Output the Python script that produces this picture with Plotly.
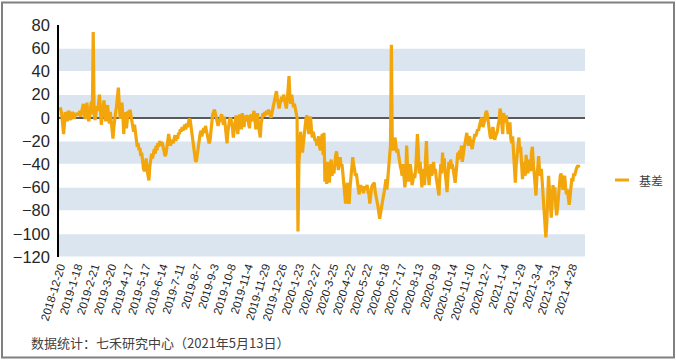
import pandas as pd
import plotly.graph_objects as go

# ---- data -------------------------------------------------------------
start_date = "2018-12-20"
end_date = "2021-05-13"
holidays = [
    "2018-12-31", "2019-01-01",
    "2019-02-04", "2019-02-05", "2019-02-06", "2019-02-07", "2019-02-08",
    "2019-04-05", "2019-05-01", "2019-05-02", "2019-05-03", "2019-06-07",
    "2019-09-13", "2019-10-01", "2019-10-02", "2019-10-03", "2019-10-04", "2019-10-07",
    "2020-01-01", "2020-01-24", "2020-01-27", "2020-01-28", "2020-01-29", "2020-01-30",
    "2020-01-31", "2020-04-06", "2020-05-01", "2020-05-04", "2020-05-05",
    "2020-06-25", "2020-06-26", "2020-10-01", "2020-10-02", "2020-10-05", "2020-10-06",
    "2020-10-07", "2020-10-08", "2021-01-01", "2021-02-11", "2021-02-12", "2021-02-15",
    "2021-02-16", "2021-02-17", "2021-04-05", "2021-05-03", "2021-05-04", "2021-05-05",
]

basis = [
    9, 7, 3, -12, -14, -5, 5, 2, -3, 4, 6, 1, -2, 3, 5, 2, -1, 4, 3,
    2, 4, 3, 6, 1, 5, 8, 12, 4, -1, 6, 13, 3, -3, 2, 10, 14, 3, 74,
    5, -2, 3, 10, 6, 18, 20, 8, -6, 2, 12, 15, 4, -3, 8, 11, 2, -5, 5,
    -5, -12, -18, -8, 2, 5, 10, 18, 26, 12, -1, 8, 13, 2, -14, 0, 5, -9, 2,
    6, 3, 7, 2, -2, -9, -12, -6, -14, -20, -25, -22, -28, -26, -33, -30, -38, -44, -46,
    -40, -35, -45, -50, -54, -42, -36, -31, -35, -29, -27, -31, -24, -28, -22, -25, -20, -24, -21,
    -22, -26, -30, -33, -31, -27, -20, -14, -18, -24, -21, -19, -22, -17, -15, -20, -16, -18, -13,
    -14, -10, -12, -8, -11, -9, -6, -10, -5, -8, -3, -1, -2, -9, -12, -18, -26, -35, -38,
    -37, -30, -22, -18, -14, -11, -16, -12, -9, -13, -7, -11, -15, -17, -22, -20, -12, -4, 3,
    5, 7, 4, 0, -3, -7, -4, -1, 2, 3, -2, -6, 1, -8, -16, -22, -12, -4, -1,
    0, -4, -8, -17, -9, -3, 2, -5, -14, -4, 3, -2, -10, 4, -1, -8, 2, -3, 1,
    2, -5, -9, 0, 3, -3, 5, 6, -1, -10, -2, 4, -6, -12, -17, -5, 2, 4, 1,
    5, 2, 6, 3, 7, 5, 1, 0, 4, 8, 12, 15, 19, 23, 17, 13, 8, 12, 15,
    18, 14, 20, 16, 10, 8, 14, 22, 36, 18, 12, 20, 16, 9, 12, 6, 4, 0, -98,
    -40, -28, -12, -25, -30, -22, -14, -8, 0, 2, -8, -14, -3, 1, -10, -17, -12, -15, -20,
    -18, -24, -21, -16, -25, -28, -20, -14, -32, -13, -55, -42, -57, -38, -45, -56, -40, -36, -50,
    -42, -48, -38, -32, -29, -36, -45, -38, -34, -42, -40, -48, -55, -64, -74, -62, -56, -72, -74,
    -60, -52, -45, -34, -40, -46, -50, -48, -54, -58, -66, -62, -58, -63, -60, -65, -59, -62, -60,
    -58, -64, -66, -74, -62, -60, -58, -57, -56, -64, -70, -72, -76, -80, -87, -82, -76, -72, -68,
    -64, -60, -53, -62, -50, -38, -30, -24, 63, -20, -28, -26, -17, -22, -30, -27, -34, -38, -42,
    -45, -50, -40, -48, -60, -52, -24, -42, -55, -48, -40, -46, -58, -54, -48, -52, -45, -30, -14,
    -28, -48, -38, -55, -60, -44, -52, -58, -36, -20, -42, -50, -58, -46, -40, -50, -45, -38, -48,
    -44, -52, -56, -62, -67, -50, -40, -48, -30, -45, -35, -48, -58, -64, -50, -38, -44, -36, -42,
    -40, -45, -52, -56, -48, -38, -30, -36, -28, -34, -24, -38, -30, -26, -22, -18, -13, -20, -24,
    -16, -20, -24, -27, -22, -17, -14, -16, -12, -10, -11, -6, -4, -1, 0, -8, -5, -2, 4,
    6, 2, -6, -12, -16, -18, -14, -8, -12, -19, -16, -14, -12, -6, -2, 8, 4, -6, -14,
    4, 0, -4, 2, -6, -14, -10, -4, -18, -22, -16, -30, -45, -56, -40, -32, -20, -17, -30,
    -25, -40, -53, -38, -46, -50, -32, -44, -48, -36, -42, -46, -30, -25, -38, -48, -60, -67, -52,
    -40, -33, -46, -50, -44, -56, -66, -74, -88, -103, -92, -70, -50, -62, -78, -86, -72, -58, -70,
    -60, -75, -84, -78, -68, -58, -50, -48, -55, -62, -52, -50, -60, -66, -62, -70, -75, -68, -56,
    -52, -55, -48, -50, -46, -44, -42, -41, -43,
]

tick_labels = [
    "2018-12-20", "2019-1-18", "2019-2-21", "2019-3-20", "2019-4-17", "2019-5-17",
    "2019-6-14", "2019-7-11", "2019-8-7", "2019-9-3", "2019-10-8", "2019-11-4",
    "2019-11-29", "2019-12-26", "2020-1-23", "2020-2-27", "2020-3-25", "2020-4-22",
    "2020-5-22", "2020-6-18", "2020-7-17", "2020-8-13", "2020-9-9", "2020-10-14",
    "2020-11-10", "2020-12-7", "2021-1-4", "2021-1-29", "2021-3-4", "2021-3-31",
    "2021-4-28",
]
y_ticks = [80, 60, 40, 20, 0, -20, -40, -60, -80, -100, -120]
series_name = "基差"
source_text = "数据统计：七禾研究中心（2021年5月13日）"

# ---- build categories --------------------------------------------------
days = pd.bdate_range(start_date, end_date)
days = [d for d in days if d.strftime("%Y-%m-%d") not in set(holidays)]
dates = [f"{d.year}-{d.month}-{d.day}" for d in days]
n = min(len(dates), len(basis))
dates = dates[:n]
vals = basis[:n]

W, H = 677, 361
L, R, T, B = 59, 92, 25, 104
pw, ph = W - L - R, H - T - B

def px(x):
    return (x - L) / pw

def py(y):
    return (H - B - y) / ph

FONT = "Liberation Sans, Arial, Noto Sans CJK SC, sans-serif"
CJK = "Noto Sans CJK SC, Liberation Sans, sans-serif"
LINE = "#F2A60C"

fig = go.Figure()
fig.add_trace(go.Scatter(
    x=dates, y=vals, mode="lines", name=series_name,
    line=dict(color=LINE, width=3.2), showlegend=False,
))

shapes = []
# alternating background bands
for lo in range(-120, 80, 40):
    shapes.append(dict(type="rect", xref="paper", yref="y", x0=0, x1=1,
                       y0=lo + 0.4, y1=lo + 20 - 0.4, fillcolor="#DAE5F0",
                       line=dict(width=0), layer="below"))
# outer border
shapes.append(dict(type="rect", xref="paper", yref="paper",
                   x0=px(2), x1=px(674), y0=py(357.5), y1=py(2.5),
                   line=dict(color="#808080", width=2), fillcolor="rgba(0,0,0,0)"))
# legend sample
shapes.append(dict(type="line", xref="paper", yref="paper",
                   x0=px(615), x1=px(629), y0=py(180), y1=py(180),
                   line=dict(color=LINE, width=3)))

annotations = [
    dict(text=series_name, xref="paper", yref="paper", x=px(637), y=py(180),
         xanchor="left", yanchor="middle", showarrow=False,
         font=dict(family=CJK, size=12, color="#404040")),
    dict(text=source_text, xref="paper", yref="paper", x=px(29), y=py(342),
         xanchor="left", yanchor="middle", showarrow=False,
         font=dict(family=CJK, size=13, color="#404040")),
]

fig.update_layout(
    width=W, height=H,
    margin=dict(l=L, r=R, t=T, b=B, pad=0),
    paper_bgcolor="white", plot_bgcolor="white",
    shapes=shapes, annotations=annotations,
    xaxis=dict(
        type="category", categoryorder="array", categoryarray=dates,
        range=[-1.1, 584.6], tickmode="array", tickvals=tick_labels,
        ticktext=tick_labels, tickangle=-73, showgrid=False, zeroline=False,
        showline=False, ticks="",
        tickfont=dict(family=FONT, size=11.5, color="#1f1f1f"),
    ),
    yaxis=dict(
        range=[-120, 80], tickmode="array", tickvals=y_ticks,
        showgrid=False, zeroline=True, zerolinecolor="#595959", zerolinewidth=1.5,
        showline=True, linecolor="#000000", linewidth=1.5, ticks="",
        ticklabelstandoff=4,
        tickfont=dict(family=FONT, size=16.5, color="#262626"),
    ),
)

fig.write_html(
    "out.html",
    config={"displayModeBar": False},
    post_script="document.body.style.margin='0';document.body.style.overflow='hidden';",
)
